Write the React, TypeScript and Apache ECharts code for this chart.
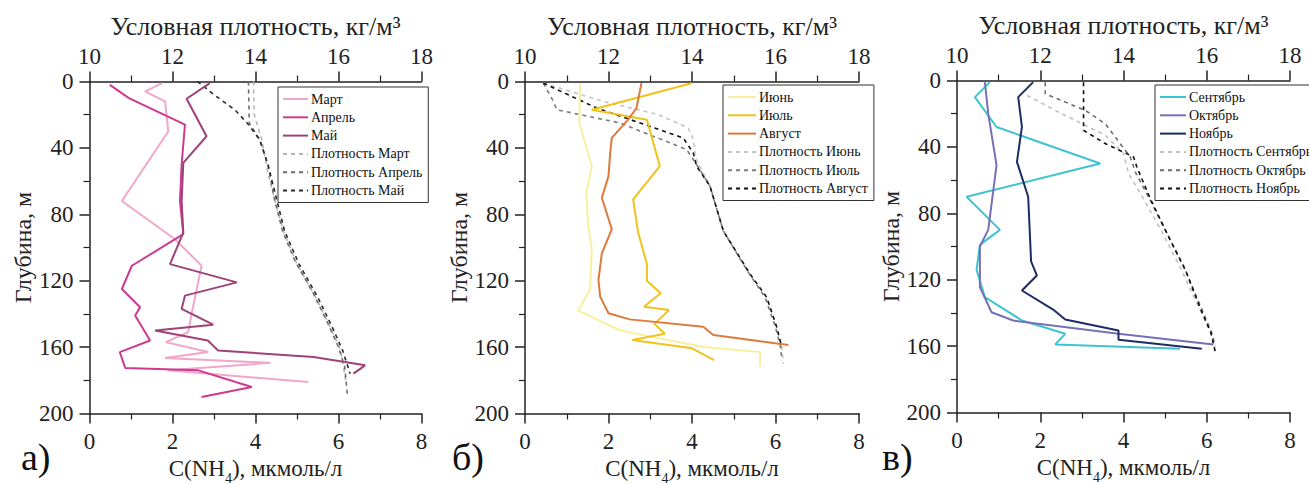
import React, { useEffect, useRef } from "react";
import * as echarts from "echarts";

const SERIF = '"Liberation Serif", "Times New Roman", serif';

// Depth ticks / axes
const depthRange = [0, 200];
const nh4Range = [0, 8];
const densRange = [10, 18];

// Panel а) — March, April, May: [C(NH4) мкмоль/л, depth м]
const martNH4 = [[1.75, 1], [1.34, 6], [1.82, 12], [1.9, 30], [0.78, 72], [2.06, 95], [2.7, 111], [2.46, 140], [2.38, 151], [1.84, 157], [2.86, 163], [1.82, 166.5], [4.36, 169.5], [1.88, 174], [5.27, 181]];
const aprelNH4 = [[0.49, 2], [0.95, 10], [2.3, 26], [2.22, 50], [2.18, 72], [2.26, 92], [1.02, 111], [0.78, 125], [1.22, 136], [1.1, 141], [1.46, 156], [0.73, 163], [0.86, 172.6], [2.62, 174], [3.91, 184], [2.7, 190]];
const maiNH4 = [[2.9, 1], [2.34, 10.4], [2.82, 33], [2.26, 49], [2.22, 72], [2.26, 91], [1.94, 110], [3.55, 121], [2.3, 129], [2.22, 137], [2.98, 146.5], [1.58, 150], [2.85, 156], [3.1, 162], [5.4, 166], [6.64, 171], [6.36, 176]];
const martDens = [[13.95, 0], [13.97, 20], [14.15, 35], [14.3, 55], [14.5, 75], [14.7, 92], [15.0, 110], [15.45, 130], [15.8, 148], [16.05, 162], [16.18, 181]];
const aprelDens = [[13.83, 0], [13.85, 25], [14.1, 35], [14.3, 50], [14.45, 70], [14.65, 90], [14.95, 108], [15.4, 128], [15.75, 146], [16.0, 160], [16.15, 172], [16.22, 190]];
const maiDens = [[12.6, 0], [13.0, 8], [13.5, 17], [13.8, 25], [14.1, 35], [14.3, 50], [14.5, 70], [14.7, 90], [15.05, 110], [15.5, 130], [15.85, 148], [16.1, 162], [16.28, 176]];

// Panel б) — June, July, August
const junNH4 = [[1.32, 1], [1.3, 25], [1.6, 51], [1.47, 67], [1.51, 87], [1.6, 101], [1.56, 125], [1.28, 138], [2.28, 150], [4.27, 160], [5.63, 163], [5.63, 172]];
const iulNH4 = [[3.99, 1], [1.6, 17], [2.92, 23], [3.23, 51], [2.59, 71], [2.71, 91], [2.92, 110], [2.92, 120], [3.25, 127.6], [2.85, 135.7], [3.45, 137.7], [3.1, 146], [3.35, 152], [2.57, 155.7], [4.0, 160.7], [4.53, 167.8]];
const avgNH4 = [[2.79, 1], [2.67, 16], [2.47, 23], [2.08, 34], [2.04, 43], [2.0, 57], [1.84, 70], [2.08, 89], [1.84, 103.5], [1.76, 119.6], [1.8, 129.6], [2.0, 139.6], [2.51, 143.3], [4.27, 147.7], [4.51, 152.7], [6.31, 158.7]];
const junDens = [[10.44, 1], [11.88, 12], [13.2, 20], [13.91, 28], [14.03, 35], [14.1, 47], [14.43, 63], [14.75, 90], [15.39, 116], [15.79, 130], [16.03, 148], [16.15, 160], [16.19, 170]];
const iulDens = [[10.44, 1], [10.68, 12], [10.76, 17], [12.28, 25], [13.87, 41], [14.11, 50], [14.43, 63], [14.75, 90], [15.35, 115], [15.75, 130], [16.0, 148], [16.12, 160], [16.15, 168]];
const avgDens = [[10.44, 1], [11.72, 16], [12.99, 27], [13.79, 34], [14.03, 43], [14.11, 51], [14.43, 63], [14.75, 90], [15.39, 116], [15.79, 130], [16.03, 148], [16.15, 160]];

// Panel в) — September, October, November
const sepNH4 = [[0.79, 1], [0.43, 10], [0.95, 28], [3.44, 50], [0.23, 70], [1.03, 90], [0.55, 99], [0.47, 114], [0.67, 130.5], [1.56, 144.6], [2.6, 152.6], [2.36, 159], [5.36, 161.6]];
const octNH4 = [[0.67, 1], [0.75, 20], [0.95, 51], [0.75, 90], [0.55, 100], [0.55, 124.5], [0.83, 139.6], [1.35, 144.6], [3.88, 152.6], [6.16, 159]];
const novNH4 = [[1.83, 1], [1.47, 10], [1.56, 28], [1.44, 49], [1.71, 70], [1.78, 109], [1.92, 117.5], [1.56, 126.5], [2.31, 138], [2.6, 144], [3.88, 150.6], [3.88, 156.2], [5.88, 161.6]];
const sepDens = [[11.68, 9], [12.36, 18], [13.56, 33], [14.0, 44], [14.12, 56], [14.45, 70], [14.9, 90], [15.35, 112], [15.8, 136], [16.1, 152], [16.2, 162]];
const octDens = [[12.12, 1], [12.12, 8], [13.08, 18], [13.56, 26], [14.16, 46], [14.3, 56], [14.6, 70], [15.0, 90], [15.45, 112], [15.85, 136], [16.12, 152], [16.2, 160]];
const novDens = [[13.04, 1], [13.04, 30], [13.56, 38], [14.24, 46], [14.32, 52], [14.64, 71], [15.12, 96], [15.5, 115], [15.84, 137], [16.1, 152], [16.2, 163]];

const panelLetters = ["а)", "б)", "в)"];
const depthName = "Глубина, м";
const densName = "Условная плотность, кг/м³";

const panels = [
  {
    grid: { left: 89.5, top: 81.5, width: 332, height: 332 },
    legendPos: { left: 278, top: 87, itemWidth: 25 },
    letterX: 21,
    nh4: [
      { name: "Март", data: martNH4, color: "#f2a6c9" },
      { name: "Апрель", data: aprelNH4, color: "#cc3a92" },
      { name: "Май", data: maiNH4, color: "#9e4279" },
    ],
    dens: [
      { name: "Плотность Март", data: martDens, color: "#b4b4b4" },
      { name: "Плотность Апрель", data: aprelDens, color: "#6c6c6c" },
      { name: "Плотность Май", data: maiDens, color: "#2a2a2a" },
    ],
  },
  {
    grid: { left: 525, top: 81.5, width: 334, height: 332 },
    legendPos: { left: 723, top: 85, itemWidth: 28 },
    letterX: 452,
    nh4: [
      { name: "Июнь", data: junNH4, color: "#f7f0a2" },
      { name: "Июль", data: iulNH4, color: "#f0c21c" },
      { name: "Август", data: avgNH4, color: "#df7a3a" },
    ],
    dens: [
      { name: "Плотность Июнь", data: junDens, color: "#c4c4c4" },
      { name: "Плотность Июль", data: iulDens, color: "#7a7a7a" },
      { name: "Плотность Август", data: avgDens, color: "#111111" },
    ],
  },
  {
    grid: { left: 957, top: 80.5, width: 333, height: 332 },
    legendPos: { left: 1155, top: 85, itemWidth: 26 },
    letterX: 882,
    nh4: [
      { name: "Сентябрь", data: sepNH4, color: "#3fc3d3" },
      { name: "Октябрь", data: octNH4, color: "#7670b6" },
      { name: "Ноябрь", data: novNH4, color: "#1d2c62" },
    ],
    dens: [
      { name: "Плотность Сентябрь", data: sepDens, color: "#c0c0c0" },
      { name: "Плотность Октябрь", data: octDens, color: "#6c6c6c" },
      { name: "Плотность Ноябрь", data: novDens, color: "#111111" },
    ],
  },
];

const AX = "#222";
const tickFont = { fontFamily: SERIF, fontSize: 23, color: "#222" };

function buildOption() {
  const grid: any[] = [];
  const xAxis: any[] = [];
  const yAxis: any[] = [];
  const series: any[] = [];
  const legend: any[] = [];
  const graphic: any[] = [];

  panels.forEach((p, i) => {
    grid.push({ ...p.grid, containLabel: false, outerBoundsMode: "none" });
    const common = {
      gridIndex: i,
      type: "value",
      splitLine: { show: false },
      axisLine: { show: true, onZero: false, lineStyle: { color: AX, width: 1.5 } },
      axisTick: { show: true, length: 10, lineStyle: { color: AX, width: 1.5 } },
      minorTick: { show: true, splitNumber: 2, length: 6, lineStyle: { color: AX, width: 1.2 } },
    };
    xAxis.push({
      ...common,
      position: "bottom",
      min: nh4Range[0],
      max: nh4Range[1],
      interval: 2,
      axisLabel: { ...tickFont, margin: 16 },
      name: "{n|C(NH}{s|4}{n|), мкмоль/л}",
      nameLocation: "middle",
      nameGap: 39,
      nameTextStyle: {
        fontFamily: SERIF,
        fontSize: 23,
        color: "#222",
        rich: {
          n: { fontFamily: SERIF, fontSize: 23, color: "#222", lineHeight: 21, verticalAlign: "bottom", padding: [0, 0, 5, 0] },
          s: { fontFamily: SERIF, fontSize: 14, color: "#222", lineHeight: 14, verticalAlign: "bottom" },
        },
      },
    });
    xAxis.push({
      ...common,
      position: "top",
      min: densRange[0],
      max: densRange[1],
      interval: 2,
      axisLabel: { ...tickFont, margin: 14 },
      name: densName,
      nameLocation: "middle",
      nameGap: 38,
      nameTextStyle: { fontFamily: SERIF, fontSize: 26, color: "#222" },
    });
    yAxis.push({
      ...common,
      position: "left",
      inverse: true,
      min: depthRange[0],
      max: depthRange[1],
      interval: 40,
      axisLabel: { ...tickFont, margin: 16 },
      name: depthName,
      nameLocation: "middle",
      nameGap: 53,
      nameTextStyle: { fontFamily: SERIF, fontSize: 24, color: "#222" },
    });

    const names: string[] = [];
    p.nh4.forEach((s) => {
      names.push(s.name);
      series.push({
        type: "line",
        name: s.name,
        xAxisIndex: 2 * i,
        yAxisIndex: i,
        data: s.data,
        symbol: "none",
        showSymbol: false,
        lineStyle: { color: s.color, width: 2 },
        itemStyle: { color: s.color },
        z: 3,
      });
    });
    p.dens.forEach((s) => {
      names.push(s.name);
      series.push({
        type: "line",
        name: s.name,
        xAxisIndex: 2 * i + 1,
        yAxisIndex: i,
        data: s.data,
        symbol: "none",
        showSymbol: false,
        lineStyle: { color: s.color, width: 1.6, type: [4, 4] },
        itemStyle: { color: s.color },
        z: 2,
      });
    });
    legend.push({
      data: names,
      orient: "vertical",
      left: p.legendPos.left,
      top: p.legendPos.top,
      itemWidth: p.legendPos.itemWidth,
      itemHeight: 14,
      itemGap: 4.3,
      padding: [5, 6, 5, 4],
      borderColor: "#333",
      borderWidth: 1,
      backgroundColor: "#fff",
      selectedMode: false,
      itemStyle: { opacity: 0 },
      textStyle: { fontFamily: SERIF, fontSize: 14, color: "#111", padding: [0, 0, 0, -2] },
    });
    graphic.push({
      type: "text",
      left: p.letterX,
      top: 436,
      style: { text: panelLetters[i], fontFamily: SERIF, fontSize: 38, lineHeight: 42, fill: "#111" },
    });
  });

  return {
    animation: false,
    backgroundColor: "#fff",
    grid,
    xAxis,
    yAxis,
    series,
    legend,
    graphic,
  };
}

export default function App() {
  const ref = useRef<HTMLDivElement>(null);
  useEffect(() => {
    if (!ref.current) return;
    const chart = echarts.init(ref.current, null, { renderer: "svg" });
    chart.setOption(buildOption() as any);
    return () => chart.dispose();
  }, []);
  return (
    <div
      ref={ref}
      style={{ position: "absolute", left: 0, top: 0, width: 1309, height: 484 }}
    />
  );
}
